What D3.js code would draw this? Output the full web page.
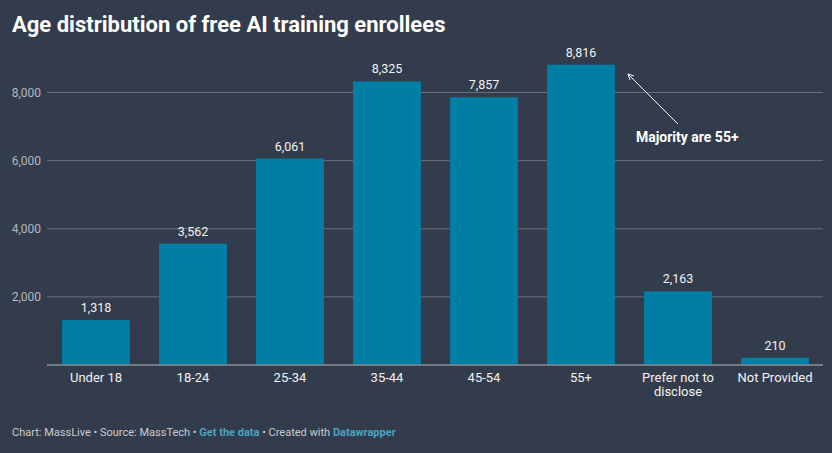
<!DOCTYPE html>
<html>
<head>
<meta charset="utf-8">
<script src="https://cdn.jsdelivr.net/npm/d3@7"></script>
<style>
    body { margin: 0; background: #333c4c; }
    svg { display: block; font-family: Roboto, "Noto Sans", sans-serif; }
</style>
</head>
<body>
<script>
// Data
var categories = ["Under 18", "18-24", "25-34", "35-44", "45-54", "55+",
                  "Prefer not to disclose", "Not Provided"];
var enrollees = [1318, 3562, 6061, 8325, 7857, 8816, 2163, 210];
var yTicks = [2000, 4000, 6000, 8000];

var width = 832,
    height = 453;

var svg = d3.select("body").append("svg")
    .attr("width", width)
    .attr("height", height);

svg.append("rect")
    .attr("width", width)
    .attr("height", height)
    .attr("fill", "#333c4c");

// Title
svg.append("text")
    .attr("x", 12)
    .attr("y", 32)
    .attr("font-size", "22px")
    .attr("font-weight", "bold")
    .attr("fill", "#ffffff")
    .text("Age distribution of free AI training enrollees");

var xScale = d3.scaleBand()
    .domain(categories)
    .range([47.5, 823.5])
    .paddingInner(0.3)
    .paddingOuter(0.15);

var yScale = d3.scaleLinear()
    .domain([0, 8000])
    .range([365, 92.5]);

// gridlines + y labels
var grid = svg.append("g");
grid.selectAll("line")
    .data(yTicks)
    .enter()
    .append("line")
    .attr("x1", 47)
    .attr("x2", 823)
    .attr("y1", function (d) { return yScale(d); })
    .attr("y2", function (d) { return yScale(d); })
    .attr("stroke", "#6b7079")
    .attr("stroke-width", 1);

grid.selectAll("text")
    .data(yTicks)
    .enter()
    .append("text")
    .attr("x", 41)
    .attr("y", function (d) { return yScale(d) + 4; })
    .attr("text-anchor", "end")
    .attr("font-size", "12px")
    .attr("fill", "#b4b8bf")
    .text(function (d) { return d3.format(",")(d); });

// bars
svg.selectAll("rect.bar")
    .data(enrollees)
    .enter()
    .append("rect")
    .attr("class", "bar")
    .attr("x", function (d, i) { return xScale(categories[i]); })
    .attr("y", function (d) { return yScale(d); })
    .attr("width", xScale.bandwidth())
    .attr("height", function (d) { return yScale(0) - yScale(d); })
    .attr("fill", "#007ea6");

// baseline
svg.append("line")
    .attr("x1", 47)
    .attr("x2", 823)
    .attr("y1", yScale(0))
    .attr("y2", yScale(0))
    .attr("stroke", "#8a8e95")
    .attr("stroke-width", 1.5);

// value labels
svg.selectAll("text.value")
    .data(enrollees)
    .enter()
    .append("text")
    .attr("class", "value")
    .attr("x", function (d, i) {
        return xScale(categories[i]) + xScale.bandwidth() / 2;
    })
    .attr("y", function (d) { return yScale(d) - 8; })
    .attr("text-anchor", "middle")
    .attr("font-size", "12.5px")
    .attr("fill", "#f2f2f2")
    .text(function (d) { return d3.format(",")(d); });

// x axis labels, wrapped by hand for the long one
var xLabels = svg.selectAll("text.xlab")
    .data(categories)
    .enter()
    .append("text")
    .attr("class", "xlab")
    .attr("text-anchor", "middle")
    .attr("font-size", "13px")
    .attr("fill", "#f2f2f2");

xLabels.each(function (d) {
    var lines = d === "Prefer not to disclose" ?
        ["Prefer not to", "disclose"] : [d];
    var cx = xScale(d) + xScale.bandwidth() / 2;
    d3.select(this).selectAll("tspan")
        .data(lines)
        .enter()
        .append("tspan")
        .attr("x", cx)
        .attr("y", function (l, i) { return 382 + i * 14; })
        .text(function (l) { return l; });
});

// annotation
svg.append("defs").append("marker")
    .attr("id", "arrow")
    .attr("viewBox", "0 0 10 10")
    .attr("refX", 9)
    .attr("refY", 5)
    .attr("markerWidth", 7)
    .attr("markerHeight", 7)
    .attr("orient", "auto")
    .append("path")
    .attr("d", "M1,1 L9,5 L1,9")
    .attr("fill", "none")
    .attr("stroke", "#ffffff")
    .attr("stroke-width", 1.3);

var x55 = xScale("55+") + xScale.bandwidth();
svg.append("line")
    .attr("x1", x55 + 63)
    .attr("y1", yScale(7075))
    .attr("x2", x55 + 13)
    .attr("y2", yScale(8543))
    .attr("stroke", "#ffffff")
    .attr("stroke-width", 1)
    .attr("marker-end", "url(#arrow)");

svg.append("text")
    .attr("x", x55 + 21)
    .attr("y", 142)
    .attr("font-size", "14px")
    .attr("font-weight", "bold")
    .attr("fill", "#ffffff")
    .text("Majority are 55+");

// footer
var footer = svg.append("text")
    .attr("x", 12)
    .attr("y", 436)
    .attr("font-size", "11px")
    .attr("fill", "#c8ccd2");
footer.append("tspan").text("Chart: MassLive \u2022 Source: MassTech \u2022 ");
footer.append("tspan").attr("fill", "#4aa3c0").attr("font-weight", "bold")
    .text("Get the data");
footer.append("tspan").text(" \u2022 Created with ");
footer.append("tspan").attr("fill", "#4aa3c0").attr("font-weight", "bold")
    .text("Datawrapper");
</script>
</body>
</html>
